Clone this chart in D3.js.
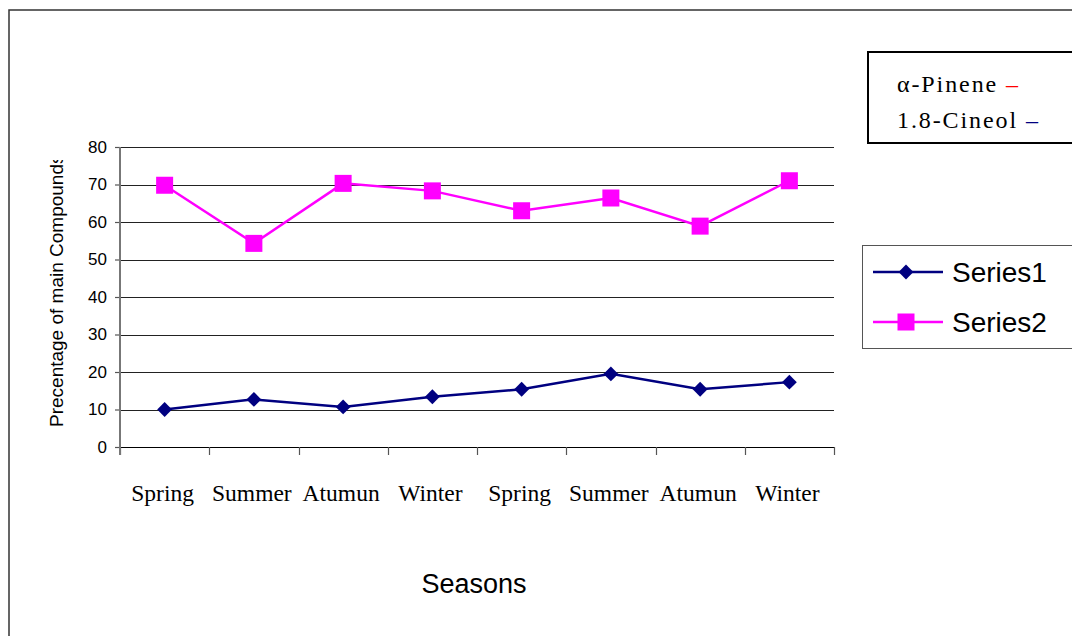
<!DOCTYPE html>
<html>
<head>
<meta charset="utf-8">
<script src="https://cdn.jsdelivr.net/npm/d3@7/dist/d3.min.js"></script>
<style>
  html, body { margin: 0; padding: 0; background: #fff; }
  svg { display: block; }
</style>
</head>
<body>
<svg id="chart" width="1072" height="636"></svg>
<script>
// ---- data ----
const categories = ["Spring", "Summer", "Atumun", "Winter", "Spring", "Summer", "Atumun", "Winter"];
const series1 = [10.0, 12.7, 10.7, 13.4, 15.4, 19.5, 15.4, 17.3];   // 1.8-Cineol
const series2 = [69.8, 54.3, 70.3, 68.3, 63.0, 66.4, 58.9, 71.0];   // α-Pinene
const seriesNames = ["Series1", "Series2"];
const yTicks = [0, 10, 20, 30, 40, 50, 60, 70, 80];
const noteLines = ["α-Pinene", "1.8-Cineol"];
const yLabel = "Precentage of main Compounds";
const xLabel = "Seasons";

const svg = d3.select("#chart");

// outer chart frame
svg.append("rect")
  .attr("x", 9).attr("y", 10).attr("width", 1200).attr("height", 800)
  .attr("fill", "none").attr("stroke", "#333").attr("stroke-width", 1.5);

const plot = { left: 120, right: 834, top: 147, bottom: 447 };

const x = d3.scaleBand().domain(d3.range(categories.length)).range([plot.left, plot.right]);
const y = d3.scaleLinear().domain([0, 80]).range([plot.bottom, plot.top]);

// gridlines
svg.append("g").selectAll("line").data(yTicks.filter(t => t > 0)).join("line")
  .attr("x1", plot.left).attr("x2", plot.right)
  .attr("y1", d => Math.round(y(d)) + 0.5).attr("y2", d => Math.round(y(d)) + 0.5)
  .attr("stroke", "#222").attr("stroke-width", 1);

// x axis line
svg.append("line")
  .attr("x1", plot.left).attr("x2", plot.right)
  .attr("y1", plot.bottom + 0.5).attr("y2", plot.bottom + 0.5)
  .attr("stroke", "#000").attr("stroke-width", 1.2);

// x ticks at band boundaries
const bounds = d3.range(categories.length + 1).map(i => i < categories.length ? x(i) : plot.right);
svg.append("g").selectAll("line").data(bounds).join("line")
  .attr("x1", d => Math.round(d) + 0.5).attr("x2", d => Math.round(d) + 0.5)
  .attr("y1", plot.bottom).attr("y2", plot.bottom + 8)
  .attr("stroke", "#555").attr("stroke-width", 1.2);

// y axis
const yAxis = d3.axisLeft(y).tickValues(yTicks).tickSize(5).tickPadding(8).tickFormat(d3.format("d"));
const gy = svg.append("g").attr("transform", `translate(${plot.left},0)`).call(yAxis);
gy.select(".domain").remove();
gy.selectAll(".tick line").attr("stroke", "#555").attr("stroke-width", 1.2);
gy.selectAll(".tick text")
  .attr("font-family", "'Liberation Sans', Arial, sans-serif")
  .attr("font-size", 17).attr("fill", "#000");
svg.append("line")
  .attr("x1", plot.left).attr("x2", plot.left)
  .attr("y1", plot.top).attr("y2", plot.bottom + 8)
  .attr("stroke", "#777").attr("stroke-width", 2);

// x category labels
svg.append("g").selectAll("text").data(categories).join("text")
  .attr("x", (d, i) => x(i) + x.bandwidth() / 2 - 2)
  .attr("y", 501)
  .attr("text-anchor", "middle")
  .attr("font-family", "'Liberation Serif', 'Times New Roman', serif")
  .attr("font-size", 23.5)
  .attr("fill", "#000")
  .text(d => d);

// y label (clipped at top)
svg.append("clipPath").attr("id", "ylabclip")
  .append("rect").attr("x", 0).attr("y", 160).attr("width", 100).attr("height", 400);
svg.append("g").attr("clip-path", "url(#ylabclip)")
  .append("text")
  .attr("transform", "translate(63,427) rotate(-90)")
  .attr("font-family", "'Liberation Sans', Arial, sans-serif")
  .attr("font-size", 19)
  .attr("fill", "#000")
  .text(yLabel);

// x label
svg.append("text")
  .attr("x", 474).attr("y", 593)
  .attr("text-anchor", "middle")
  .attr("font-family", "'Liberation Sans', Arial, sans-serif")
  .attr("font-size", 27)
  .attr("fill", "#000")
  .text(xLabel);

// lines
const colors = ["#000080", "#FF00FF"];
const line = d3.line().x((d, i) => x(i) + x.bandwidth() / 2).y(d => y(d));
[series1, series2].forEach((s, k) => {
  svg.append("path").datum(s)
    .attr("d", line)
    .attr("fill", "none")
    .attr("stroke", colors[k])
    .attr("stroke-width", 2.5);
});

// markers
const diamond = d3.symbol().type(d3.symbolSquare).size(110);
svg.append("g").selectAll("path").data(series1).join("path")
  .attr("d", diamond)
  .attr("transform", (d, i) => `translate(${x(i) + x.bandwidth() / 2},${y(d)}) rotate(45)`)
  .attr("fill", "#000080");
svg.append("g").selectAll("rect").data(series2).join("rect")
  .attr("x", (d, i) => x(i) + x.bandwidth() / 2 - 8.5)
  .attr("y", d => y(d) - 8.5)
  .attr("width", 17).attr("height", 17)
  .attr("fill", "#FF00FF");

// note box (top right)
svg.append("rect")
  .attr("x", 868).attr("y", 52).attr("width", 240).attr("height", 91)
  .attr("fill", "#fff").attr("stroke", "#000").attr("stroke-width", 2);
const dashColors = ["#FF0000", "#000080"];
noteLines.forEach((t, i) => {
  const tx = svg.append("text")
    .attr("x", 897).attr("y", 92 + i * 36)
    .attr("font-family", "'Liberation Serif', 'Times New Roman', serif")
    .attr("font-size", 24)
    .attr("letter-spacing", 1.9)
    .attr("fill", "#000");
  tx.append("tspan").text(t + " ");
  tx.append("tspan").attr("fill", dashColors[i]).text("–");
});

// series legend
svg.append("rect")
  .attr("x", 862.5).attr("y", 245.5).attr("width", 215).attr("height", 103)
  .attr("fill", "#fff").attr("stroke", "#555").attr("stroke-width", 1);
seriesNames.forEach((name, i) => {
  const ly = 272 + i * 50;
  svg.append("line")
    .attr("x1", 873).attr("x2", 943).attr("y1", ly).attr("y2", ly)
    .attr("stroke", colors[i]).attr("stroke-width", 2.5);
  if (i === 0) {
    svg.append("path").attr("d", diamond)
      .attr("transform", `translate(906,${ly}) rotate(45)`)
      .attr("fill", colors[i]);
  } else {
    svg.append("rect").attr("x", 906 - 8.5).attr("y", ly - 8.5)
      .attr("width", 17).attr("height", 17).attr("fill", colors[i]);
  }
  svg.append("text")
    .attr("x", 952).attr("y", ly + 10)
    .attr("font-family", "'Liberation Sans', Arial, sans-serif")
    .attr("font-size", 28)
    .attr("fill", "#000")
    .text(name);
});
</script>
</body>
</html>
